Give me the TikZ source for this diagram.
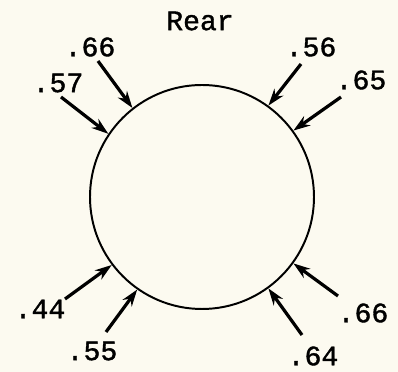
\documentclass[tikz,border=0pt]{standalone}
\usepackage{fontspec}
\setmonofont[FakeBold=1.3]{Liberation Mono}
\usepackage{tikz}
\usetikzlibrary{arrows.meta, positioning}
\definecolor{paper}{RGB}{252,250,240}

\begin{document}
\begin{tikzpicture}[
  lbl/.style={font=\ttfamily\fontsize{20}{22}\selectfont, inner sep=0pt},
  load/.style={line width=2.3pt, -{Stealth[length=12pt,width=8pt]}}]
% Paper and frame
\fill[paper] (-5.05,-4.375) rectangle (4.9,4.925);
\useasboundingbox (-5.05,-4.375) rectangle (4.9,4.925);

% Section
\node[draw, circle, line width=1.4pt, minimum size=5.6cm, inner sep=0pt] (hull) at (0,0) {};
\node[lbl] (rear) at (-0.05,4.4) {Rear};

% Pressure arrows
\foreach \i/\a/\tx/\ty/\lx/\ly/\v in {
    1/128/-2.6/3.4/-2.8/3.75/.66,
    2/146/-3.525/2.5/-3.6/2.85/.57,
    3/54/2.475/3.325/2.725/3.75/.56,
    4/36/3.475/2.5/3.975/2.925/.65,
    5/217/-3.425/-2.55/-4.05/-2.8/.44,
    6/235/-2.4/-3.375/-2.75/-3.85/.55,
    7/324/3.4/-2.475/4.025/-2.9/.66,
    8/306/2.5/-3.45/2.775/-3.975/.64} {
    \coordinate (t\i) at (\tx,\ty);
    \node[lbl] (l\i) at (\lx,\ly) {\v};
    \draw[load] (t\i) -- (hull.\a);
}

\end{tikzpicture}
\end{document}
